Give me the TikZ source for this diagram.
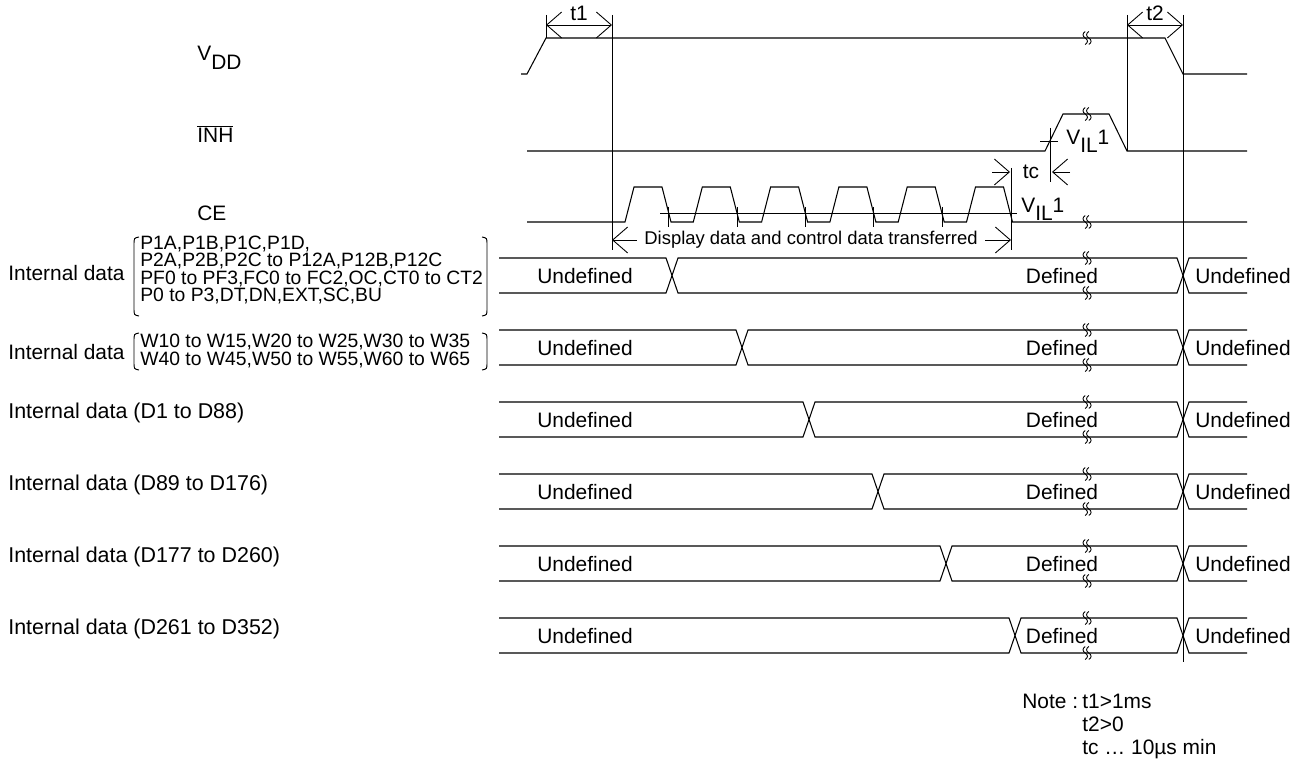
\documentclass[tikz,border=0pt]{standalone}
\usepackage{fontspec}
\setmainfont{Liberation Sans}
\usetikzlibrary{arrows.meta,positioning,calc}

\tikzset{
  sig/.style={line width=0.6pt},
  guide/.style={line width=0.45pt},
  brtxt/.style={font=\fontsize{11}{10}\selectfont,inner sep=0pt,align=left},
  brk/.pic={\foreach \d in {-1.8,1.8}
    \draw[line width=0.5pt] (\d,-6.5) .. controls (\d-3,-4.5) and (\d-3,-2) .. (\d,0)
                                   .. controls (\d+3,2) and (\d+3,4.5) .. (\d,6.5);}
}
% round bracket: x, top, bottom, side (1 = left, -1 = right)
\newcommand{\bkt}[4]{\draw[line width=0.55pt] (#1+#4*5,#2) .. controls (#1,#2+1) .. (#1,#2+8) -- (#1,#3-8) .. controls (#1,#3-1) .. (#1+#4*5,#3);}

\begin{document}
\begin{tikzpicture}[x=0.02cm,y=-0.02cm,>={Straight Barb[length=3mm,width=5.2mm,line width=0.5pt]},every node/.style={font=\fontsize{11.9}{14}\selectfont}]
  \useasboundingbox (0,0) rectangle (1308,760);

  % signal names
  \node[anchor=base west,inner sep=0] (vdd) at (197,61) {V\raisebox{-5pt}{DD}};
  \node[anchor=base west,inner sep=0] (inh) at (197,143) {$\overline{\mbox{INH}}$};
  \node[anchor=base west,inner sep=0] (ce) at (197,221) {CE};

  % waveforms
  \draw[sig] (521,74) -- (527,74) -- (546,38) -- (1165,38) -- (1183,74) -- (1247,74);
  \draw[sig] (527,151) -- (1045,151) -- (1063,114) -- (1109,114) -- (1127,151) -- (1247,151);
  \draw[sig] (527,222) \foreach \i in {0,...,5}{ -- ({625+68.3*\i},222) -- ({634+68.3*\i},187)
    -- ({662+68.3*\i},187) -- ({671+68.3*\i},222)} -- (1247,222);
  \foreach \y in {38,114,222} \pic at (1087,\y) {brk};

  % VIL1 levels
  \draw[guide] (660,213) -- (1017,213);
  \foreach \i in {0,...,4} \draw[guide] ({668.7+68.3*\i},207) -- ({668.7+68.3*\i},227);
  \draw[guide] (1040,141) -- (1058,141);
  \node[anchor=base west,inner sep=0] (vilh) at (1066,145) {V\raisebox{-4pt}{IL}1};
  \node[anchor=base west,inner sep=0] (vilc) at (1021,213) {V\raisebox{-4pt}{IL}1};

  % timing guides
  \draw[guide] (546,15) -- (546,38);
  \draw[guide] (612,15) -- (612,250);
  \draw[guide] (1127,15) -- (1127,151);
  \draw[guide] (1183,15) -- (1183,662);
  \draw[guide] (1011,168) -- (1011,250);
  \draw[guide] (1050,128) -- (1050,182);

  \coordinate (t1l) at (546,25);
  \coordinate (t1r) at (612,25);
  \draw[guide,<->] (t1l) -- (t1r) node[midway,above=2pt,inner sep=0] (t1) {t1};
  \coordinate (t2l) at (1127,25);
  \coordinate (t2r) at (1183,25);
  \draw[guide,<->] (t2l) -- (t2r) node[midway,above=2pt,inner sep=0] (t2) {t2};

  \node (tc) at (1031,172) {tc};
  \coordinate (tca) at (992,172);
  \coordinate (tcb) at (1010,172);
  \coordinate (tcc) at (1070,172);
  \coordinate (tcd) at (1052,172);
  \draw[guide,->] (tca) -- (tcb);
  \draw[guide,->] (tcc) -- (tcd);

  \node[font=\fontsize{10.5}{12}\selectfont,inner sep=4pt] (disp) at (811,240) {Display data and control data transferred};
  \coordinate (dl) at (612,240);
  \coordinate (dr) at (1011,240);
  \draw[guide,->] (disp.west) -- (dl);
  \draw[guide,->] (disp.east) -- (dr);

  % internal data buses
  \foreach \r/\yt/\xc in {1/258/672,2/330/742,3/402/809,4/474/878,5/546/946,6/618/1015}{
    \pgfmathsetmacro{\yb}{\yt+35}
    \draw[sig] (499,\yt) -- (\xc-6,\yt) -- (\xc+6,\yb) -- (1177,\yb) -- (1189,\yt) -- (1247,\yt);
    \draw[sig] (499,\yb) -- (\xc-6,\yb) -- (\xc+6,\yt) -- (1177,\yt) -- (1189,\yb) -- (1247,\yb);
    \pic at (1087,\yt) {brk};
    \pic at (1087,\yb) {brk};
    \node (und\r) at (585,\yt+18) {Undefined};
    \node (def\r) at (1062,\yt+18) {Defined};
    \node (end\r) at (1243,\yt+18) {Undefined};
  }

  \node[anchor=west,inner sep=0] (lbl1) at (8,273) {Internal data};
  \node[anchor=west,inner sep=0] (lbl2) at (8,352) {Internal data};
  \foreach \r/\yt/\rng in {3/402/D1 to D88,4/474/D89 to D176,5/546/D177 to D260,6/618/D261 to D352}
    \node[anchor=west,inner sep=0,font=\fontsize{12.2}{14}\selectfont] (lbl\r) at (8,\yt+11) {Internal data (\rng)};

  \node[brtxt,anchor=west] (grp1) at (140,270) {P1A,P1B,P1C,P1D,\\P2A,P2B,P2C to P12A,P12B,P12C\\PF0 to PF3,FC0 to FC2,OC,CT0 to CT2\\P0 to P3,DT,DN,EXT,SC,BU};
  \node[brtxt,anchor=west] (grp2) at (140,351) {W10 to W15,W20 to W25,W30 to W35\\W40 to W45,W50 to W55,W60 to W65};
  \bkt{134}{237}{316}{1}
  \bkt{487}{237}{316}{-1}
  \bkt{134}{333}{370}{1}
  \bkt{487}{333}{370}{-1}

  % note
  \node[anchor=base west,inner sep=0] (note) at (1022,708) {Note :};
  \node[anchor=base west,inner sep=0] (n1) at (1082,708) {t1>1ms};
  \node[anchor=base west,inner sep=0] (n2) at (1082,731) {t2>0};
  \node[anchor=base west,inner sep=0] (n3) at (1082,754) {tc … 10µs min};
\end{tikzpicture}
\end{document}
